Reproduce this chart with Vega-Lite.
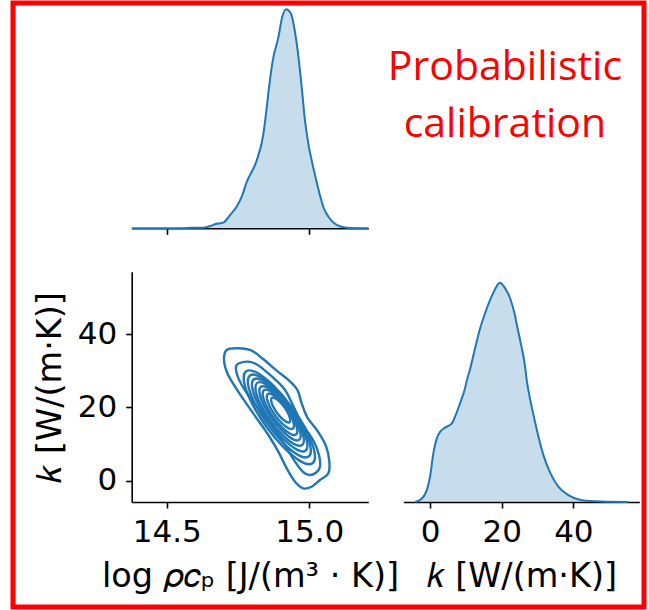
{
"$schema": "https://vega.github.io/schema/vega-lite/v6.json",
"width": 631,
"height": 604,
"autosize": "none",
"padding": {"left": 13, "top": 3, "right": 5, "bottom": 3},
"background": "white",
"config": {
  "view": {"stroke": "#ff0000", "strokeWidth": 5},
  "axis": {"grid": false, "domainColor": "black", "tickColor": "black", "domainWidth": 1.6, "tickWidth": 1.6, "tickSize": 6,
    "labelFont": "DejaVu Sans", "labelFontSize": 31, "labelColor": "black", "labelPadding": 9, "labelFlush": false, "labelOverlap": false,
    "titleFont": "DejaVu Sans", "titleFontSize": 33.5, "titleFontWeight": "normal", "titleColor": "black", "titlePadding": 13}
},
"datasets": {
  "rho_kde": [
    {"log_rho_cp": 14.377, "density": 0}, {"log_rho_cp": 14.55, "density": 0}, {"log_rho_cp": 14.59, "density": 0.02},
    {"log_rho_cp": 14.63, "density": 0.02}, {"log_rho_cp": 14.655, "density": 0.08}, {"log_rho_cp": 14.669, "density": 0.13},
    {"log_rho_cp": 14.698, "density": 0.18}, {"log_rho_cp": 14.722, "density": 0.42}, {"log_rho_cp": 14.745, "density": 0.69},
    {"log_rho_cp": 14.763, "density": 1.01}, {"log_rho_cp": 14.78, "density": 1.47}, {"log_rho_cp": 14.8156, "density": 2.17},
    {"log_rho_cp": 14.8389, "density": 3.01}, {"log_rho_cp": 14.8506, "density": 3.85}, {"log_rho_cp": 14.86, "density": 4.6},
    {"log_rho_cp": 14.8717, "density": 5.35}, {"log_rho_cp": 14.8915, "density": 6.1}, {"log_rho_cp": 14.905, "density": 6.75},
    {"log_rho_cp": 14.9184, "density": 7.0}, {"log_rho_cp": 14.9348, "density": 6.88}, {"log_rho_cp": 14.9465, "density": 6.45},
    {"log_rho_cp": 14.9593, "density": 5.67}, {"log_rho_cp": 14.9734, "density": 4.51}, {"log_rho_cp": 14.985, "density": 3.43},
    {"log_rho_cp": 14.9967, "density": 2.7}, {"log_rho_cp": 15.0084, "density": 2.17}, {"log_rho_cp": 15.026, "density": 1.47},
    {"log_rho_cp": 15.0375, "density": 1.05}, {"log_rho_cp": 15.049, "density": 0.69}, {"log_rho_cp": 15.067, "density": 0.37},
    {"log_rho_cp": 15.096, "density": 0.11}, {"log_rho_cp": 15.131, "density": 0.02}, {"log_rho_cp": 15.207, "density": 0}
  ],
  "k_kde": [
    {"k": -4.19, "density": 0}, {"k": -2.32, "density": 0.00075}, {"k": -0.92, "density": 0.00265}, {"k": 0, "density": 0.0057},
    {"k": 0.92, "density": 0.011}, {"k": 1.87, "density": 0.01445}, {"k": 2.79, "density": 0.01595}, {"k": 4.19, "density": 0.01695},
    {"k": 6.06, "density": 0.01785}, {"k": 6.98, "density": 0.01945}, {"k": 8.37, "density": 0.0225}, {"k": 9.77, "density": 0.0259},
    {"k": 10.2, "density": 0.0275}, {"k": 11.16, "density": 0.0302}, {"k": 12.56, "density": 0.035}, {"k": 13.95, "density": 0.0395},
    {"k": 15.35, "density": 0.043}, {"k": 16.74, "density": 0.046}, {"k": 18.14, "density": 0.0485}, {"k": 19.07, "density": 0.04975},
    {"k": 19.5, "density": 0.05}, {"k": 20.0, "density": 0.04975}, {"k": 20.93, "density": 0.04875}, {"k": 22.33, "density": 0.0465},
    {"k": 23.72, "density": 0.0425}, {"k": 24.2, "density": 0.0405}, {"k": 25.12, "density": 0.037}, {"k": 26.51, "density": 0.031},
    {"k": 27.0, "density": 0.02775}, {"k": 27.91, "density": 0.0235}, {"k": 28.83, "density": 0.02}, {"k": 30.23, "density": 0.015},
    {"k": 31.62, "density": 0.01075}, {"k": 33.49, "density": 0.00675}, {"k": 35.81, "density": 0.0035}, {"k": 38.6, "density": 0.00155},
    {"k": 42.34, "density": 0.0004}, {"k": 47.92, "density": 0.0001}, {"k": 55.35, "density": 0}
  ],
  "annotation": [
    {"label": "Probabilistic\ncalibration", "k": 20.9, "density": 0.0962}
  ],
  "contours": [
    {"level": 0, "pt": 1, "log_rho_cp": 14.7103, "k": 35.66}, {"level": 0, "pt": 2, "log_rho_cp": 14.7512, "k": 36.12},
    {"level": 0, "pt": 3, "log_rho_cp": 14.7979, "k": 35.48}, {"level": 0, "pt": 4, "log_rho_cp": 14.8388, "k": 33.11},
    {"level": 0, "pt": 5, "log_rho_cp": 14.8856, "k": 30.02}, {"level": 0, "pt": 6, "log_rho_cp": 14.9265, "k": 27.48},
    {"level": 0, "pt": 7, "log_rho_cp": 14.9581, "k": 24.75}, {"level": 0, "pt": 8, "log_rho_cp": 14.9732, "k": 21.11},
    {"level": 0, "pt": 9, "log_rho_cp": 14.9931, "k": 17.29}, {"level": 0, "pt": 10, "log_rho_cp": 15.0282, "k": 13.65},
    {"level": 0, "pt": 11, "log_rho_cp": 15.0586, "k": 9.47}, {"level": 0, "pt": 12, "log_rho_cp": 15.0703, "k": 5.19},
    {"level": 0, "pt": 13, "log_rho_cp": 15.0668, "k": 2.01}, {"level": 0, "pt": 14, "log_rho_cp": 15.0375, "k": 0.19},
    {"level": 0, "pt": 15, "log_rho_cp": 15.0083, "k": -1.63}, {"level": 0, "pt": 16, "log_rho_cp": 14.9791, "k": -2.08},
    {"level": 0, "pt": 17, "log_rho_cp": 14.9499, "k": -0.26}, {"level": 0, "pt": 18, "log_rho_cp": 14.9207, "k": 3.37},
    {"level": 0, "pt": 19, "log_rho_cp": 14.8914, "k": 7.92}, {"level": 0, "pt": 20, "log_rho_cp": 14.8564, "k": 12.47},
    {"level": 0, "pt": 21, "log_rho_cp": 14.8155, "k": 17.02}, {"level": 0, "pt": 22, "log_rho_cp": 14.7746, "k": 21.56},
    {"level": 0, "pt": 23, "log_rho_cp": 14.7395, "k": 25.66}, {"level": 0, "pt": 24, "log_rho_cp": 14.7126, "k": 29.29},
    {"level": 0, "pt": 25, "log_rho_cp": 14.7009, "k": 32.93},
    {"level": 1, "pt": 1, "log_rho_cp": 14.7453, "k": 31.57}, {"level": 1, "pt": 2, "log_rho_cp": 14.7804, "k": 32.48},
    {"level": 1, "pt": 3, "log_rho_cp": 14.8131, "k": 31.84}, {"level": 1, "pt": 4, "log_rho_cp": 14.8447, "k": 30.02},
    {"level": 1, "pt": 5, "log_rho_cp": 14.8798, "k": 27.66}, {"level": 1, "pt": 6, "log_rho_cp": 14.9148, "k": 24.75},
    {"level": 1, "pt": 7, "log_rho_cp": 14.9382, "k": 21.29}, {"level": 1, "pt": 8, "log_rho_cp": 14.9616, "k": 17.47},
    {"level": 1, "pt": 9, "log_rho_cp": 14.9884, "k": 14.02}, {"level": 1, "pt": 10, "log_rho_cp": 15.0165, "k": 10.65},
    {"level": 1, "pt": 11, "log_rho_cp": 15.034, "k": 7.01}, {"level": 1, "pt": 12, "log_rho_cp": 15.0375, "k": 3.83},
    {"level": 1, "pt": 13, "log_rho_cp": 15.0235, "k": 2.19}, {"level": 1, "pt": 14, "log_rho_cp": 15.0001, "k": 1.55},
    {"level": 1, "pt": 15, "log_rho_cp": 14.9768, "k": 2.47}, {"level": 1, "pt": 16, "log_rho_cp": 14.9499, "k": 5.19},
    {"level": 1, "pt": 17, "log_rho_cp": 14.9183, "k": 9.29}, {"level": 1, "pt": 18, "log_rho_cp": 14.8798, "k": 13.83},
    {"level": 1, "pt": 19, "log_rho_cp": 14.8388, "k": 17.93}, {"level": 1, "pt": 20, "log_rho_cp": 14.7979, "k": 22.02},
    {"level": 1, "pt": 21, "log_rho_cp": 14.7629, "k": 26.11}, {"level": 1, "pt": 22, "log_rho_cp": 14.7453, "k": 29.29},
    {"level": 2, "pt": 1, "log_rho_cp": 15.0114, "k": 4.75}, {"level": 2, "pt": 2, "log_rho_cp": 15.0185, "k": 7.71},
    {"level": 2, "pt": 3, "log_rho_cp": 14.9925, "k": 13.24}, {"level": 2, "pt": 4, "log_rho_cp": 14.9404, "k": 19.85},
    {"level": 2, "pt": 5, "log_rho_cp": 14.8761, "k": 25.78}, {"level": 2, "pt": 6, "log_rho_cp": 14.8168, "k": 29.43},
    {"level": 2, "pt": 7, "log_rho_cp": 14.7784, "k": 29.83}, {"level": 2, "pt": 8, "log_rho_cp": 14.7713, "k": 26.87},
    {"level": 2, "pt": 9, "log_rho_cp": 14.7973, "k": 21.35}, {"level": 2, "pt": 10, "log_rho_cp": 14.8494, "k": 14.73},
    {"level": 2, "pt": 11, "log_rho_cp": 14.9137, "k": 8.81}, {"level": 2, "pt": 12, "log_rho_cp": 14.973, "k": 5.15},
    {"level": 3, "pt": 1, "log_rho_cp": 14.9977, "k": 6.59}, {"level": 3, "pt": 2, "log_rho_cp": 15.0043, "k": 9.21},
    {"level": 3, "pt": 3, "log_rho_cp": 14.9816, "k": 14.1}, {"level": 3, "pt": 4, "log_rho_cp": 14.9357, "k": 19.94},
    {"level": 3, "pt": 5, "log_rho_cp": 14.8788, "k": 25.17}, {"level": 3, "pt": 6, "log_rho_cp": 14.8263, "k": 28.38},
    {"level": 3, "pt": 7, "log_rho_cp": 14.7922, "k": 28.71}, {"level": 3, "pt": 8, "log_rho_cp": 14.7855, "k": 26.09},
    {"level": 3, "pt": 9, "log_rho_cp": 14.8082, "k": 21.2}, {"level": 3, "pt": 10, "log_rho_cp": 14.8541, "k": 15.36},
    {"level": 3, "pt": 11, "log_rho_cp": 14.911, "k": 10.13}, {"level": 3, "pt": 12, "log_rho_cp": 14.9635, "k": 6.92},
    {"level": 4, "pt": 1, "log_rho_cp": 14.9865, "k": 8.19}, {"level": 4, "pt": 2, "log_rho_cp": 14.9924, "k": 10.51},
    {"level": 4, "pt": 3, "log_rho_cp": 14.9725, "k": 14.82}, {"level": 4, "pt": 4, "log_rho_cp": 14.9321, "k": 19.96},
    {"level": 4, "pt": 5, "log_rho_cp": 14.8821, "k": 24.55}, {"level": 4, "pt": 6, "log_rho_cp": 14.8358, "k": 27.38},
    {"level": 4, "pt": 7, "log_rho_cp": 14.8057, "k": 27.67}, {"level": 4, "pt": 8, "log_rho_cp": 14.7998, "k": 25.35},
    {"level": 4, "pt": 9, "log_rho_cp": 14.8197, "k": 21.04}, {"level": 4, "pt": 10, "log_rho_cp": 14.8601, "k": 15.91},
    {"level": 4, "pt": 11, "log_rho_cp": 14.9101, "k": 11.31}, {"level": 4, "pt": 12, "log_rho_cp": 14.9564, "k": 8.49},
    {"level": 5, "pt": 1, "log_rho_cp": 14.9749, "k": 9.72}, {"level": 5, "pt": 2, "log_rho_cp": 14.9804, "k": 11.76},
    {"level": 5, "pt": 3, "log_rho_cp": 14.9634, "k": 15.53}, {"level": 5, "pt": 4, "log_rho_cp": 14.9283, "k": 20.01},
    {"level": 5, "pt": 5, "log_rho_cp": 14.8846, "k": 24.01}, {"level": 5, "pt": 6, "log_rho_cp": 14.844, "k": 26.45},
    {"level": 5, "pt": 7, "log_rho_cp": 14.8173, "k": 26.68}, {"level": 5, "pt": 8, "log_rho_cp": 14.8118, "k": 24.64},
    {"level": 5, "pt": 9, "log_rho_cp": 14.8288, "k": 20.87}, {"level": 5, "pt": 10, "log_rho_cp": 14.8639, "k": 16.39},
    {"level": 5, "pt": 11, "log_rho_cp": 14.9076, "k": 12.39}, {"level": 5, "pt": 12, "log_rho_cp": 14.9482, "k": 9.95},
    {"level": 6, "pt": 1, "log_rho_cp": 14.9644, "k": 11.15}, {"level": 6, "pt": 2, "log_rho_cp": 14.9692, "k": 12.89},
    {"level": 6, "pt": 3, "log_rho_cp": 14.9547, "k": 16.11}, {"level": 6, "pt": 4, "log_rho_cp": 14.9248, "k": 19.93},
    {"level": 6, "pt": 5, "log_rho_cp": 14.8875, "k": 23.33}, {"level": 6, "pt": 6, "log_rho_cp": 14.8529, "k": 25.41},
    {"level": 6, "pt": 7, "log_rho_cp": 14.8302, "k": 25.61}, {"level": 6, "pt": 8, "log_rho_cp": 14.8254, "k": 23.87},
    {"level": 6, "pt": 9, "log_rho_cp": 14.8399, "k": 20.66}, {"level": 6, "pt": 10, "log_rho_cp": 14.8698, "k": 16.83},
    {"level": 6, "pt": 11, "log_rho_cp": 14.9071, "k": 13.43}, {"level": 6, "pt": 12, "log_rho_cp": 14.9417, "k": 11.35},
    {"level": 7, "pt": 1, "log_rho_cp": 14.9535, "k": 12.6}, {"level": 7, "pt": 2, "log_rho_cp": 14.9578, "k": 14.08},
    {"level": 7, "pt": 3, "log_rho_cp": 14.9459, "k": 16.78}, {"level": 7, "pt": 4, "log_rho_cp": 14.921, "k": 19.98},
    {"level": 7, "pt": 5, "log_rho_cp": 14.8897, "k": 22.83}, {"level": 7, "pt": 6, "log_rho_cp": 14.8605, "k": 24.55},
    {"level": 7, "pt": 7, "log_rho_cp": 14.8411, "k": 24.7}, {"level": 7, "pt": 8, "log_rho_cp": 14.8368, "k": 23.22},
    {"level": 7, "pt": 9, "log_rho_cp": 14.8487, "k": 20.52}, {"level": 7, "pt": 10, "log_rho_cp": 14.8736, "k": 17.32},
    {"level": 7, "pt": 11, "log_rho_cp": 14.9049, "k": 14.47}, {"level": 7, "pt": 12, "log_rho_cp": 14.9341, "k": 12.75},
    {"level": 8, "pt": 1, "log_rho_cp": 14.9423, "k": 14.21}, {"level": 8, "pt": 2, "log_rho_cp": 14.946, "k": 15.38},
    {"level": 8, "pt": 3, "log_rho_cp": 14.9368, "k": 17.49}, {"level": 8, "pt": 4, "log_rho_cp": 14.9175, "k": 20.0},
    {"level": 8, "pt": 5, "log_rho_cp": 14.893, "k": 22.21}, {"level": 8, "pt": 6, "log_rho_cp": 14.87, "k": 23.55},
    {"level": 8, "pt": 7, "log_rho_cp": 14.8547, "k": 23.65}, {"level": 8, "pt": 8, "log_rho_cp": 14.8511, "k": 22.49},
    {"level": 8, "pt": 9, "log_rho_cp": 14.8602, "k": 20.37}, {"level": 8, "pt": 10, "log_rho_cp": 14.8795, "k": 17.86},
    {"level": 8, "pt": 11, "log_rho_cp": 14.904, "k": 15.65}, {"level": 8, "pt": 12, "log_rho_cp": 14.927, "k": 14.31},
    {"level": 9, "pt": 1, "log_rho_cp": 14.9304, "k": 15.97}, {"level": 9, "pt": 2, "log_rho_cp": 14.9329, "k": 16.79},
    {"level": 9, "pt": 3, "log_rho_cp": 14.9265, "k": 18.28}, {"level": 9, "pt": 4, "log_rho_cp": 14.9129, "k": 20.04},
    {"level": 9, "pt": 5, "log_rho_cp": 14.8957, "k": 21.6}, {"level": 9, "pt": 6, "log_rho_cp": 14.8795, "k": 22.54},
    {"level": 9, "pt": 7, "log_rho_cp": 14.8688, "k": 22.61}, {"level": 9, "pt": 8, "log_rho_cp": 14.8663, "k": 21.79},
    {"level": 9, "pt": 9, "log_rho_cp": 14.8727, "k": 20.3}, {"level": 9, "pt": 10, "log_rho_cp": 14.8863, "k": 18.54},
    {"level": 9, "pt": 11, "log_rho_cp": 14.9035, "k": 16.98}, {"level": 9, "pt": 12, "log_rho_cp": 14.9197, "k": 16.04}
  ]
},
"layer": [
  {
    "data": {"name": "rho_kde"},
    "encoding": {
      "x": {"field": "log_rho_cp", "type": "quantitative",
        "scale": {"domain": [14.377, 15.207], "range": [118.7, 355.3], "zero": false, "nice": false},
        "axis": {"orient": "bottom", "offset": -378.7, "labels": false, "title": null, "values": [14.5, 15.0]}},
      "y": {"field": "density", "type": "quantitative",
        "scale": {"domain": [0, 7.35], "range": [225.3, -4.7], "nice": false}, "axis": null}
    },
    "layer": [
      {"mark": {"type": "area", "interpolate": "monotone", "color": "#1f77b4", "fillOpacity": 0.25}},
      {"mark": {"type": "line", "interpolate": "monotone", "color": "#1f77b4", "strokeWidth": 2}}
    ]
  },
  {
    "data": {"name": "contours"},
    "mark": {"type": "line", "interpolate": "cardinal-closed", "color": "#1f77b4", "strokeWidth": 2.4},
    "encoding": {
      "x": {"field": "log_rho_cp", "type": "quantitative",
        "scale": {"domain": [14.377, 15.207], "range": [118.7, 355.3], "zero": false, "nice": false},
        "axis": {"orient": "bottom", "offset": -105, "values": [14.5, 15.0], "format": ".1f", "title": "log 𝜌𝑐ₚ [J/(m³ · K)]"}},
      "y": {"field": "k", "type": "quantitative",
        "scale": {"domain": [-5.8, 57.0], "range": [499, 268.7], "zero": false, "nice": false},
        "axis": {"orient": "left", "offset": -118.7, "values": [0, 20, 40], "title": "𝑘 [W/(m·K)]", "titlePadding": 10}},
      "detail": {"field": "level", "type": "nominal"},
      "order": {"field": "pt", "type": "quantitative"}
    }
  },
  {
    "encoding": {
      "x": {"field": "k", "type": "quantitative",
        "scale": {"domain": [-7.45, 58.4], "range": [390.3, 626.3], "zero": false, "nice": false},
        "axis": {"orient": "bottom", "offset": -105, "values": [0, 20, 40], "title": "𝑘 [W/(m·K)]"}},
      "y": {"field": "density", "type": "quantitative",
        "scale": {"domain": [0, 0.0525], "range": [499, 268.7], "nice": false}, "axis": null}
    },
    "layer": [
      {"data": {"name": "k_kde"}, "mark": {"type": "area", "interpolate": "monotone", "color": "#1f77b4", "fillOpacity": 0.25}},
      {"data": {"name": "k_kde"}, "mark": {"type": "line", "interpolate": "monotone", "color": "#1f77b4", "strokeWidth": 2}},
      {
        "data": {"name": "annotation"},
        "mark": {"type": "text", "font": "Open Sans", "fontSize": 41, "color": "#ff0000", "align": "center", "baseline": "alphabetic", "lineBreak": "\n", "lineHeight": 57},
        "encoding": {"text": {"field": "label", "type": "nominal"}}
      }
    ]
  }
],
"resolve": {"scale": {"x": "independent", "y": "independent"}, "axis": {"x": "independent", "y": "independent"}}
}
